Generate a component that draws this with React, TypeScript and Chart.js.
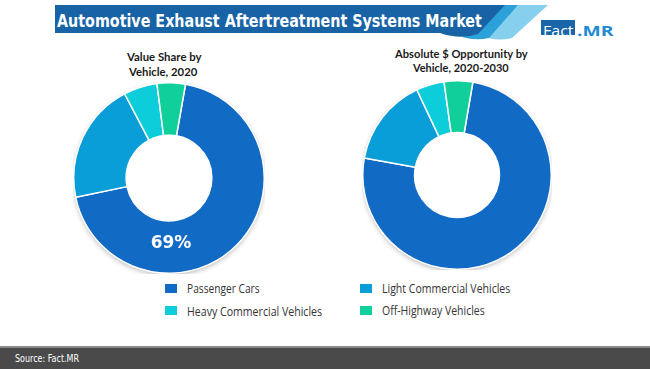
import React, { useEffect, useLayoutEffect, useRef, useState } from "react";
import { Chart, registerables } from "chart.js";

Chart.register(...registerables);

const categories = [
  "Passenger Cars",
  "Light Commercial Vehicles",
  "Heavy Commercial Vehicles",
  "Off-Highway Vehicles",
];
const share2020 = [69, 20.5, 5.7, 4.8];
const opportunity20202030 = [75.2, 15.1, 4.8, 4.9];
const colors = ["#116ac4", "#0a9ed8", "#0ecdda", "#10cf9b"];
const share2020Label = "69%";

const shadowPlugin = {
  id: "ringShadow",
  beforeDatasetsDraw(chart: any) {
    const arc = chart.getDatasetMeta(0).data[0];
    if (!arc) return;
    const ctx = chart.ctx;
    ctx.save();
    ctx.shadowColor = "rgba(0,0,0,0.28)";
    ctx.shadowBlur = 5;
    ctx.shadowOffsetY = 2;
    ctx.fillStyle = "#ffffff";
    ctx.beginPath();
    ctx.arc(arc.x, arc.y, arc.outerRadius, 0, Math.PI * 2);
    ctx.fill();
    ctx.restore();
  },
};

function makeLabelPlugin(text: string | null) {
  return {
    id: "arcLabel",
    afterDatasetsDraw(chart: any) {
      if (!text) return;
      const arc = chart.getDatasetMeta(0).data[0];
      if (!arc) return;
      const ctx = chart.ctx;
      ctx.save();
      ctx.fillStyle = "#ffffff";
      ctx.font = "bold 17px 'DejaVu Sans'";
      ctx.textAlign = "center";
      ctx.textBaseline = "middle";
      const r = (arc.innerRadius + arc.outerRadius) / 2 - 3;
      ctx.fillText(text, arc.x + 2, arc.y + r);
      ctx.restore();
    },
  };
}

function Donut({ data, rotation, left, top, size, label }: any) {
  const ref = useRef<HTMLCanvasElement>(null);
  useEffect(() => {
    if (!ref.current) return;
    const chart = new Chart(ref.current, {
      type: "doughnut",
      data: {
        labels: categories,
        datasets: [
          {
            data,
            backgroundColor: colors,
            borderColor: "#ffffff",
            borderWidth: 1.5,
          },
        ],
      },
      options: {
        responsive: false,
        animation: false,
        devicePixelRatio: 1,
        rotation,
        cutout: "45%",
        layout: { padding: 0 },
        plugins: { legend: { display: false }, tooltip: { enabled: false }, title: { display: false } },
      },
      plugins: [shadowPlugin, makeLabelPlugin(label)],
    } as any);
    return () => chart.destroy();
  }, []);
  return (
    <canvas
      ref={ref}
      width={size}
      height={size}
      style={{ position: "absolute", left, top, width: size, height: size }}
    />
  );
}

function FitText({ text, left, cy, width, font, color, lh = 16 }: any) {
  const ref = useRef<HTMLSpanElement>(null);
  const [s, setS] = useState(1);
  useLayoutEffect(() => {
    const measure = () => {
      if (ref.current) {
        const w = ref.current.offsetWidth;
        if (w) setS(width / w);
      }
    };
    measure();
    (document as any).fonts?.ready?.then(measure);
  }, [text, width]);
  return (
    <span
      ref={ref}
      style={{
        position: "absolute",
        left,
        top: cy - lh / 2,
        height: lh,
        lineHeight: lh + "px",
        whiteSpace: "nowrap",
        font,
        color,
        transform: `scaleX(${s})`,
        transformOrigin: "left center",
        display: "inline-block",
      }}
    >
      {text}
    </span>
  );
}

export default function App() {
  const sub = "bold 12px Lato";
  const leg = "12px 'Open Sans'";
  return (
    <div
      style={{
        position: "fixed",
        left: 0,
        top: 0,
        width: 650,
        height: 369,
        background: "#ffffff",
        overflow: "hidden",
      }}
    >
      <svg width={650} height={50} style={{ position: "absolute", left: 0, top: 0 }}>
        <path d="M515,5 H548 L512,38 Q500,41 488,38 Z" fill="#86d0ee" />
        <path d="M503,5 H518 L489,38 Q476,41 462,37 Z" fill="#2ca0d8" />
        <path d="M55,5 H505 L478,34 Q460,40 440,33 H55 Z" fill="#1763a6" />
      </svg>
      <FitText
        text="Automotive Exhaust Aftertreatment Systems Market"
        left={57}
        cy={20}
        width={425}
        font="bold 18px 'DejaVu Sans'"
        color="#ffffff"
        lh={20}
      />
      <div
        style={{
          position: "absolute",
          left: 541,
          top: 20,
          width: 34,
          height: 15,
          background: "#1a66a8",
        }}
      />
      <FitText text="Fact" left={543} cy={27.5} width={31} font="15px 'Open Sans'" color="#ffffff" lh={16} />
      <FitText text=".MR" left={577} cy={27.5} width={36} font="bold 15px 'Open Sans'" color="#1e8ad2" lh={16} />

      <FitText text="Value Share by" left={127} cy={57} width={75} font={sub} color="#1a1a1a" />
      <FitText text="Vehicle, 2020" left={129} cy={72} width={68} font={sub} color="#1a1a1a" />
      <FitText text="Absolute $ Opportunity by" left={395} cy={54} width={133} font={sub} color="#1a1a1a" />
      <FitText text="Vehicle, 2020-2030" left={413} cy={68} width={96} font={sub} color="#1a1a1a" />

      <Donut data={share2020} rotation={10} left={73} top={82} size={192} label={share2020Label} />
      <Donut data={opportunity20202030} rotation={9.7} left={362} top={80} size={190} label={null} />

      {[
        { i: 0, x: 165, tx: 187, cy: 288.3, w: 73 },
        { i: 1, x: 360, tx: 382, cy: 288.3, w: 128 },
        { i: 2, x: 165, tx: 187, cy: 310.5, w: 135 },
        { i: 3, x: 360, tx: 382, cy: 310, w: 103 },
      ].map((d) => (
        <React.Fragment key={d.i}>
          <div
            style={{
              position: "absolute",
              left: d.x,
              top: d.cy - 4.5,
              width: 12,
              height: 9,
              background: colors[d.i],
            }}
          />
          <FitText text={categories[d.i]} left={d.tx} cy={d.cy} width={d.w} font={leg} color="#333333" />
        </React.Fragment>
      ))}

      <div style={{ position: "absolute", left: 0, top: 346, width: 650, height: 2, background: "#8a8a8a" }} />
      <div style={{ position: "absolute", left: 0, top: 348, width: 650, height: 21, background: "#4a4a4a" }} />
      <FitText text="Source: Fact.MR" left={15} cy={359} width={64} font="10px 'DejaVu Sans'" color="#ffffff" lh={12} />
    </div>
  );
}
